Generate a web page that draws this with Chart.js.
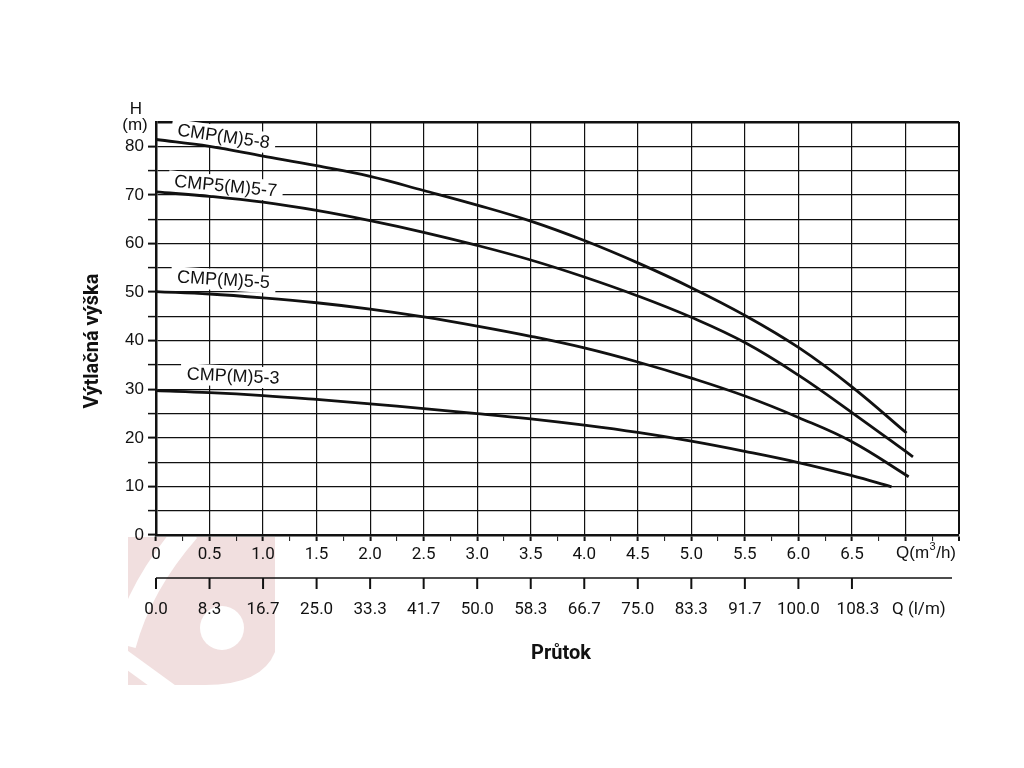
<!DOCTYPE html>
<html>
<head>
<meta charset="utf-8">
<script src="https://cdn.jsdelivr.net/npm/chart.js@4.4.1/dist/chart.umd.min.js"></script>
<style>
  html, body { margin: 0; padding: 0; background: #fff; }
  #wrap { width: 1024px; height: 768px; }
</style>
</head>
<body>
<div id="wrap"><canvas id="pumpChart" width="1024" height="768"></canvas></div>
<script>
// flow points (m3/h) and matching l/min labels
const flowM3h = [0, 0.5, 1.0, 1.5, 2.0, 2.5, 3.0, 3.5, 4.0, 4.5, 5.0, 5.5, 6.0, 6.5];
const flowLpm = ['0.0', '8.3', '16.7', '25.0', '33.3', '41.7', '50.0', '58.3', '66.7', '75.0', '83.3', '91.7', '100.0', '108.3'];

const seriesNames = ['CMP(M)5-8', 'CMP5(M)5-7', 'CMP(M)5-5', 'CMP(M)5-3'];

// head (m) at each flow point
const head58 = [81.4, 80.0, 78.0, 76.0, 73.8, 70.9, 67.9, 64.6, 60.6, 56.0, 50.9, 45.2, 38.6, 30.5];
const head57 = [70.6, 69.7, 68.5, 66.8, 64.7, 62.3, 59.6, 56.6, 53.1, 49.2, 44.8, 39.6, 32.9, 25.2];
const head55 = [50.1, 49.6, 48.8, 47.8, 46.5, 44.9, 43.0, 40.9, 38.5, 35.6, 32.3, 28.6, 24.2, 19.2];
const head53 = [29.7, 29.3, 28.7, 27.9, 27.0, 26.0, 25.0, 23.9, 22.6, 21.1, 19.3, 17.2, 14.9, 12.2];

// where each curve stops
const endFlow = [7.01, 7.07, 7.03, 6.87];
const endHead = [21.0, 16.1, 12.0, 9.9];

const heads = [head58, head57, head55, head53];

const datasets = heads.map((h, k) => ({
  label: seriesNames[k],
  data: flowM3h.map((q, i) => ({ x: q, y: h[i] })).concat([{ x: endFlow[k], y: endHead[k] }]),
  borderColor: '#111',
  borderWidth: 2.8,
  pointRadius: 0,
  showLine: true,
  fill: false,
  tension: 0.4,
}));

const isHalf = (v) => Math.round(v * 100) % 50 === 0;

// white page + faint pink logo behind everything
const backgroundPlugin = {
  id: 'background',
  beforeDraw(chart) {
    const ctx = chart.ctx;
    ctx.save();
    ctx.fillStyle = '#fff';
    ctx.fillRect(0, 0, chart.width, chart.height);

    ctx.fillStyle = 'rgb(241, 223, 223)';
    ctx.beginPath();
    ctx.moveTo(128, 537);
    ctx.lineTo(275, 537);
    ctx.lineTo(275, 652);
    ctx.quadraticCurveTo(262, 685, 205, 685);
    ctx.lineTo(128, 685);
    ctx.closePath();
    ctx.fill();

    ctx.strokeStyle = '#fff';
    ctx.lineWidth = 24;
    ctx.beginPath();
    ctx.moveTo(188, 530);
    ctx.quadraticCurveTo(140, 585, 124, 645);
    ctx.stroke();

    ctx.lineWidth = 16;
    ctx.beginPath();
    ctx.moveTo(120, 655);
    ctx.lineTo(175, 695);
    ctx.stroke();

    ctx.fillStyle = '#fff';
    ctx.beginPath();
    ctx.arc(222, 628, 22, 0, Math.PI * 2);
    ctx.fill();
    ctx.restore();
  }
};

// curve names on white boxes, drawn over the grid but under the curves
const curveLabelPlugin = {
  id: 'curveLabels',
  beforeDatasetsDraw(chart) {
    const ctx = chart.ctx;
    const xs = chart.scales.x, ys = chart.scales.y;
    const spots = [[0.63, 81.9, 8], [0.65, 71.7, 5.5], [0.63, 52.4, 3.5], [0.72, 32.6, 2.5]];
    ctx.save();
    ctx.font = '18px "Liberation Sans", Arial, sans-serif';
    ctx.textAlign = 'center';
    ctx.textBaseline = 'middle';
    spots.forEach((s, k) => {
      const px = xs.getPixelForValue(s[0]);
      const py = ys.getPixelForValue(s[1]);
      const w = ctx.measureText(seriesNames[k]).width;
      ctx.save();
      ctx.translate(px, py);
      ctx.rotate(s[2] * Math.PI / 180);
      ctx.fillStyle = '#fff';
      ctx.fillRect(-w / 2 - 6, -11, w + 12, 21);
      ctx.fillStyle = '#111';
      ctx.fillText(seriesNames[k], 0, 0);
      ctx.restore();
    });
    ctx.restore();
  }
};

// extra axis text: H (m), unit labels, l/min scale, titles
const axisTextPlugin = {
  id: 'axisText',
  afterDraw(chart) {
    const ctx = chart.ctx;
    const xs = chart.scales.x;
    ctx.save();
    ctx.fillStyle = '#111';
    ctx.strokeStyle = '#111';

    ctx.font = '17px "Liberation Sans", Arial, sans-serif';
    ctx.textAlign = 'center';
    ctx.textBaseline = 'middle';
    ctx.fillText('H', 136, 109);
    ctx.fillText('(m)', 135, 125);

    // Q(m³/h)
    ctx.font = '17px "Liberation Sans", Arial, sans-serif';
    ctx.textAlign = 'left';
    let x = 896;
    const y = 553;
    ctx.fillText('Q(m', x, y);
    x += ctx.measureText('Q(m').width;
    ctx.font = '11px "Liberation Sans", Arial, sans-serif';
    ctx.fillText('3', x + 0.5, y - 6);
    x += ctx.measureText('3').width + 1;
    ctx.font = '17px "Liberation Sans", Arial, sans-serif';
    ctx.fillText('/h)', x, y);

    // second flow scale in l/min
    ctx.lineWidth = 1.5;
    ctx.beginPath();
    ctx.moveTo(xs.getPixelForValue(0), 578);
    ctx.lineTo(952, 578);
    ctx.stroke();
    ctx.lineWidth = 2;
    ctx.font = '17px Roboto, sans-serif';
    ctx.textAlign = 'center';
    flowM3h.forEach((q, i) => {
      const px = xs.getPixelForValue(q);
      ctx.beginPath();
      ctx.moveTo(px, 578);
      ctx.lineTo(px, 589);
      ctx.stroke();
      ctx.fillText(flowLpm[i], px + (i === flowM3h.length - 1 ? 6 : 0), 610);
    });
    ctx.textAlign = 'left';
    ctx.fillText('Q (l/m)', 892, 610);

    ctx.font = 'bold 20px Roboto, sans-serif';
    ctx.textAlign = 'center';
    ctx.fillText('Průtok', 561, 654);

    ctx.save();
    ctx.translate(93, 341);
    ctx.rotate(-Math.PI / 2);
    ctx.font = 'bold 20px Roboto, sans-serif';
    ctx.fillText('Výtlačná výška', 0, 0);
    ctx.restore();

    ctx.restore();
  }
};

const chart = new Chart(document.getElementById('pumpChart'), {
  type: 'scatter',
  data: { datasets: datasets },
  options: {
    responsive: false,
    animation: false,
    layout: { padding: { left: 100, top: 122, right: 65, bottom: 0 } },
    plugins: {
      legend: { display: false },
      tooltip: { enabled: false },
    },
    scales: {
      x: {
        type: 'linear',
        min: 0,
        max: 7.5,
        afterFit: (scale) => { scale.height = 233; },
        ticks: {
          stepSize: 0.25,
          autoSkip: false,
          maxRotation: 0,
          padding: 4,
          color: '#111',
          font: { family: 'Roboto', size: 17 },
          callback: (v) => (isHalf(v) && v <= 6.5 ? (v === 0 ? '0' : v.toFixed(1)) : ''),
        },
        grid: {
          color: (c) => (c.tick && isHalf(c.tick.value) ? '#111' : 'rgba(0,0,0,0)'),
          lineWidth: (c) => (c.tick && c.tick.value === 7.5 ? 2 : 1.2),
          tickColor: '#111',
          tickLength: 6,
          tickWidth: (c) => (c.tick && isHalf(c.tick.value) ? 2 : 1),
        },
        border: { color: '#111', width: 2.5 },
      },
      y: {
        min: 0,
        max: 85,
        afterFit: (scale) => { scale.width = 56; },
        ticks: {
          stepSize: 5,
          autoSkip: false,
          padding: 4,
          color: '#111',
          font: { family: '"Liberation Sans", Arial', size: 17 },
          callback: (v) => (v % 10 === 0 && v <= 80 ? String(v) : ''),
        },
        grid: {
          color: '#111',
          lineWidth: (c) => (c.tick && c.tick.value === 85 ? 2.5 : 1.2),
          tickColor: (c) => (c.tick && c.tick.value === 85 ? 'rgba(0,0,0,0)' : '#111'),
          tickLength: 8,
          tickWidth: (c) => (c.tick && c.tick.value % 10 === 0 ? 2 : 1.5),
        },
        border: { color: '#111', width: 2.5 },
      },
    },
  },
  plugins: [backgroundPlugin, curveLabelPlugin, axisTextPlugin],
});
</script>
</body>
</html>
